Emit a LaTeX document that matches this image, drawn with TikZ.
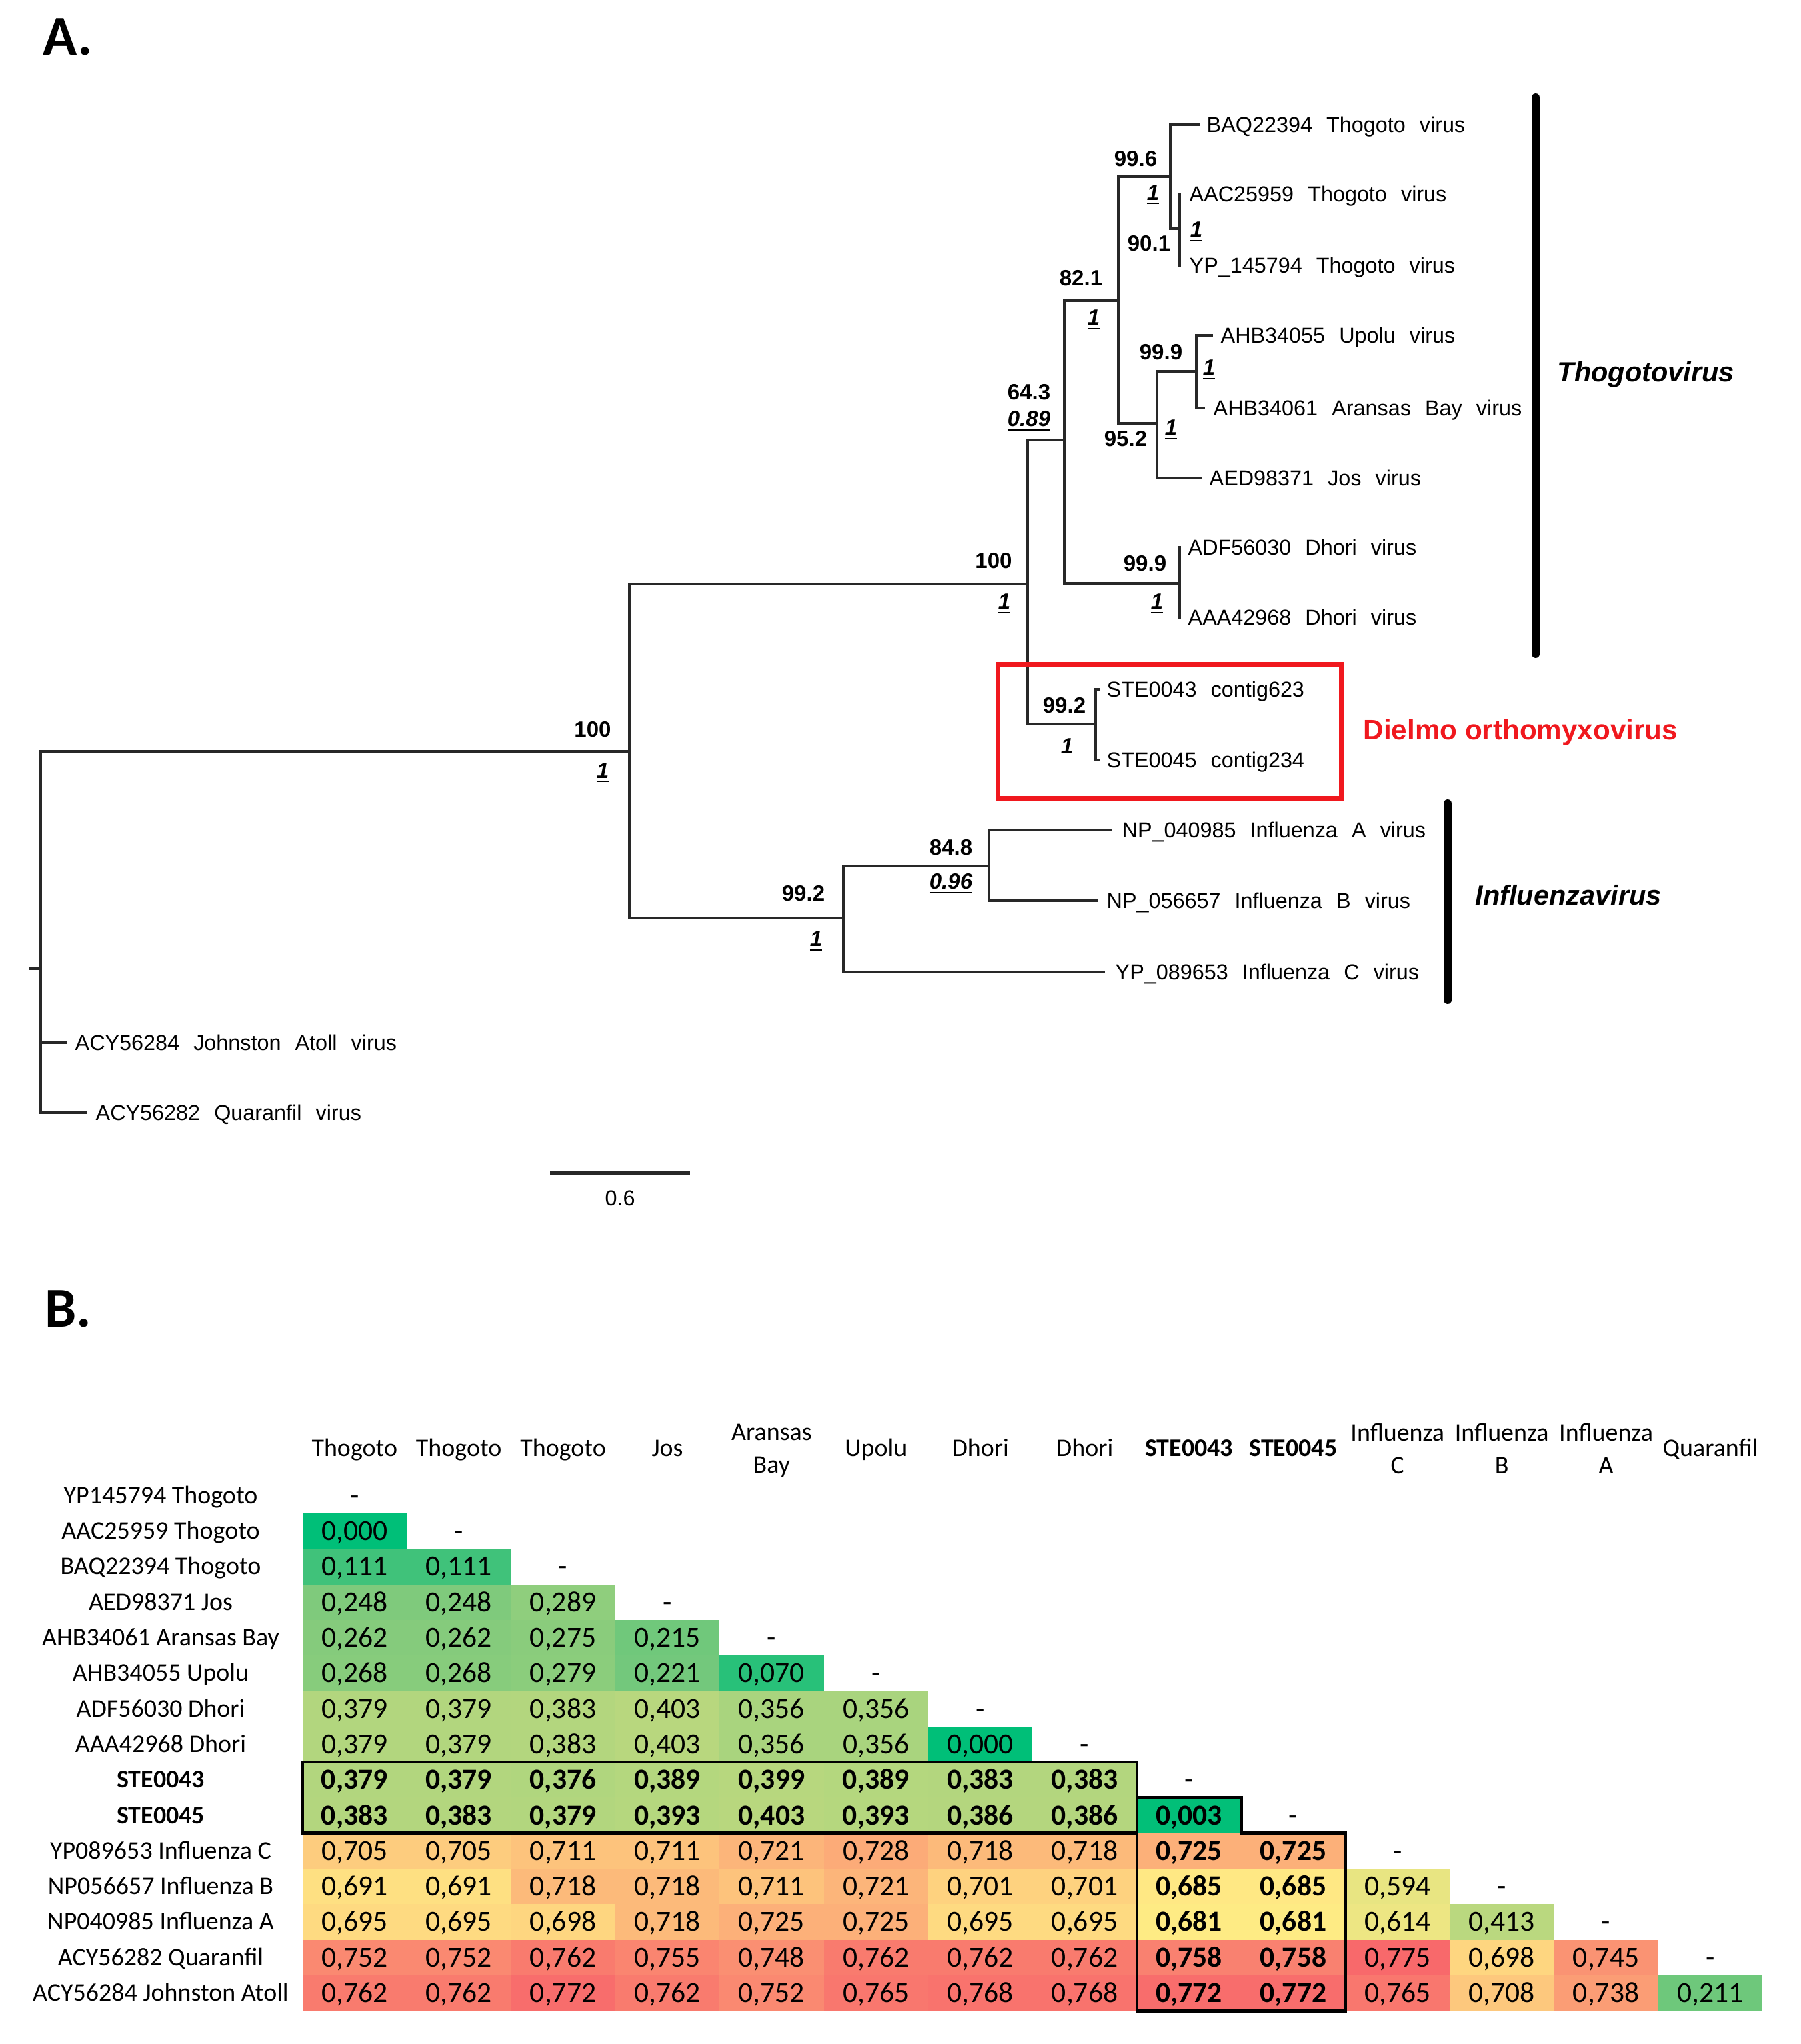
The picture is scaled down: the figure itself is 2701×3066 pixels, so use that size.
\documentclass[tikz,border=0pt]{standalone}
\usepackage{fontspec}
\setmainfont{Liberation Sans}
\newfontfamily\treefont[WordSpace=2.35]{Liberation Sans}
\newfontfamily\calfont{Carlito}
\definecolor{dred}{RGB}{240,24,30}
\definecolor{brc}{RGB}{40,40,40}
% heat-map colour scale
\def\hmseg#1#2#3#4#5#6#7#8{%
  \pgfmathsetmacro\hmt{(\hmv-#1)/(#2-#1)}%
  \pgfmathsetmacro\hmr{(#3+(#6-#3)*\hmt)/255}%
  \pgfmathsetmacro\hmg{(#4+(#7-#4)*\hmt)/255}%
  \pgfmathsetmacro\hmb{(#5+(#8-#5)*\hmt)/255}%
  \definecolor{hmc}{rgb}{\hmr,\hmg,\hmb}}
\def\hmset#1{%
  \edef\hmv{0.#1}%
  \ifdim\hmv pt<0.111pt \hmseg{0}{0.111}{0}{191}{120}{64}{194}{122}%
  \else\ifdim\hmv pt<0.25pt \hmseg{0.111}{0.25}{64}{194}{122}{128}{202}{124}%
  \else\ifdim\hmv pt<0.38pt \hmseg{0.25}{0.38}{128}{202}{124}{178}{214}{126}%
  \else\ifdim\hmv pt<0.683pt \hmseg{0.38}{0.683}{178}{214}{126}{255}{235}{132}%
  \else \hmseg{0.683}{0.775}{255}{235}{132}{248}{105}{107}%
  \fi\fi\fi\fi}
\begin{document}
\begin{tikzpicture}[x=0.01cm,y=-0.01cm,
  br/.style={draw=brc,line width=0.9pt,line cap=rect},
  tiplab/.style={anchor=base west,inner sep=0pt,yshift=-3.3pt,font=\treefont\fontsize{9.2}{11}\selectfont},
  bs/.style={inner sep=0pt,font=\treefont\bfseries\fontsize{9.4}{11}\selectfont},
  pp/.style={inner sep=0pt,font=\treefont\bfseries\itshape\fontsize{9.4}{11}\selectfont},
  clade/.style={line width=3.4pt,line cap=round},
  hlab/.style={inner sep=0pt,align=center,font=\calfont\fontsize{10.8}{13.9}\selectfont},
  hlabs/.style={anchor=base,inner sep=0pt,font=\calfont\fontsize{10.8}{13}\selectfont},
  rlab/.style={anchor=base,inner sep=0pt,font=\calfont\fontsize{10.8}{13}\selectfont},
  num/.style={anchor=base,inner sep=0pt,font=\calfont\fontsize{12.4}{14}\selectfont},
  numb/.style={anchor=base,inner sep=0pt,font=\calfont\bfseries\fontsize{12.4}{14}\selectfont},
  panel/.style={inner sep=0pt,font=\calfont\bfseries\fontsize{24}{28}\selectfont}]
\useasboundingbox[fill=white] (0,0) rectangle (2701,3066);

% ---------------- panel labels
\node[panel] (pA) at (102,55) {A.};
\node[panel] (pB) at (102,1963) {B.};

% ---------------- tree
\coordinate (rtick) at (46,1453);
\coordinate (root) at (61,1453);
\coordinate (n100a) at (944,1127);
\coordinate (n100b) at (1541,876);
\coordinate (n643) at (1596,660);
\coordinate (n821) at (1677,451);
\coordinate (n996) at (1755,265);
\coordinate (n901) at (1769,343);
\coordinate (n952) at (1735,635);
\coordinate (n999) at (1794,557);
\coordinate (ndho) at (1769,875);
\coordinate (ndie) at (1643,1086);
\coordinate (n992) at (1265,1377);
\coordinate (n848) at (1483,1299);
\coordinate (tBAQ) at (1797,187);
\coordinate (tAAC) at (1769,291);
\coordinate (tYP1) at (1769,398);
\coordinate (tUPO) at (1817,503);
\coordinate (tARA) at (1805,612);
\coordinate (tJOS) at (1801,717);
\coordinate (tADF) at (1769,821);
\coordinate (tAAA) at (1769,926);
\coordinate (tS43) at (1648,1034);
\coordinate (tS45) at (1648,1140);
\coordinate (tIFA) at (1665,1245);
\coordinate (tIFB) at (1645,1351);
\coordinate (tIFC) at (1655,1458);
\coordinate (tJOH) at (98,1564);
\coordinate (tQUA) at (129,1669);

\draw[br] (rtick) -- (root);
\draw[br] (root) |- (n100a);
\draw[br] (root) |- (tJOH);
\draw[br] (root) |- (tQUA);
\draw[br] (n100a) |- (n100b);
\draw[br] (n100a) |- (n992);
\draw[br] (n100b) |- (n643);
\draw[br] (n100b) |- (ndie);
\draw[br] (n643) |- (n821);
\draw[br] (n643) |- (ndho);
\draw[br] (n821) |- (n996);
\draw[br] (n821) |- (n952);
\draw[br] (n996) |- (tBAQ);
\draw[br] (n996) |- (n901);
\draw[br] (n901) |- (tAAC);
\draw[br] (n901) |- (tYP1);
\draw[br] (n952) |- (n999);
\draw[br] (n952) |- (tJOS);
\draw[br] (n999) |- (tUPO);
\draw[br] (n999) |- (tARA);
\draw[br] (ndho) |- (tADF);
\draw[br] (ndho) |- (tAAA);
\draw[br] (ndie) |- (tS43);
\draw[br] (ndie) |- (tS45);
\draw[br] (n992) |- (n848);
\draw[br] (n992) |- (tIFC);
\draw[br] (n848) |- (tIFA);
\draw[br] (n848) |- (tIFB);

\node[tiplab] (lBAQ) at (1809,187) {BAQ22394 Thogoto virus};
\node[tiplab] (lAAC) at (1783,291) {AAC25959 Thogoto virus};
\node[tiplab] (lYP1) at (1783,398) {YP\_145794 Thogoto virus};
\node[tiplab] (lUPO) at (1830,503) {AHB34055 Upolu virus};
\node[tiplab] (lARA) at (1819,612) {AHB34061 Aransas Bay virus};
\node[tiplab] (lJOS) at (1813,717) {AED98371 Jos virus};
\node[tiplab] (lADF) at (1781,821) {ADF56030 Dhori virus};
\node[tiplab] (lAAA) at (1781,926) {AAA42968 Dhori virus};
\node[tiplab] (lS43) at (1659,1034) {STE0043 contig623};
\node[tiplab] (lS45) at (1659,1140) {STE0045 contig234};
\node[tiplab] (lIFA) at (1682,1245) {NP\_040985 Influenza A virus};
\node[tiplab] (lIFB) at (1659,1351) {NP\_056657 Influenza B virus};
\node[tiplab] (lIFC) at (1672,1458) {YP\_089653 Influenza C virus};
\node[tiplab] (lJOH) at (112,1564) {ACY56284 Johnston Atoll virus};
\node[tiplab] (lQUA) at (143,1669) {ACY56282 Quaranfil virus};

% support values
\node[bs] (s1) at (889,1094) {100};   \node[pp] (q1) at (904,1160) {\underline{1}};
\node[bs] (s2) at (1490,841) {100};   \node[pp] (q2) at (1506,906) {\underline{1}};
\node[bs] (s3) at (1543,588) {64.3};  \node[pp] (q3) at (1543,632) {\underline{0.89}};
\node[bs] (s4) at (1621,417) {82.1};  \node[pp] (q4) at (1640,480) {\underline{1}};
\node[bs] (s5) at (1703,238) {99.6};  \node[pp] (q5) at (1729,293) {\underline{1}};
\node[bs] (s6) at (1723,365) {90.1};  \node[pp] (q6) at (1794,348) {\underline{1}};
\node[bs] (s7) at (1741,528) {99.9};  \node[pp] (q7) at (1813,555) {\underline{1}};
\node[bs] (s8) at (1688,658) {95.2};  \node[pp] (q8) at (1756,645) {\underline{1}};
\node[bs] (s9) at (1717,845) {99.9};  \node[pp] (q9) at (1735,906) {\underline{1}};
\node[bs] (s10) at (1596,1058) {99.2}; \node[pp] (q10) at (1600,1123) {\underline{1}};
\node[bs] (s11) at (1205,1340) {99.2}; \node[pp] (q11) at (1224,1412) {\underline{1}};
\node[bs] (s12) at (1426,1271) {84.8}; \node[pp] (q12) at (1426,1326) {\underline{0.96}};

% clade bars and labels
\coordinate (thA) at (2303,146); \coordinate (thB) at (2303,981);
\draw[clade] (thA) -- (thB);
\node[anchor=base west,inner sep=0pt,font=\bfseries\itshape\fontsize{11.8}{14}\selectfont] (thlab) at (2335,572) {Thogotovirus};
\coordinate (inA) at (2171,1205); \coordinate (inB) at (2171,1500);
\draw[clade] (inA) -- (inB);
\node[anchor=base west,inner sep=0pt,font=\bfseries\itshape\fontsize{11.8}{14}\selectfont] (inlab) at (2212,1357) {Influenzavirus};
\draw[dred,line width=2pt] (1496,997) rectangle (2011,1197);
\node[anchor=base west,inner sep=0pt,text=dred,font=\bfseries\fontsize{12}{14}\selectfont] (dielmo) at (2044,1109) {Dielmo orthomyxovirus};

% scale bar
\coordinate (sbA) at (825,1759); \coordinate (sbB) at (1035,1759);
\draw[line width=1.5pt,draw=brc] (sbA) -- (sbB);
\node[inner sep=0pt,font=\treefont\fontsize{9.2}{11}\selectfont] (sbl) at (930,1797) {0.6};

% ---------------- heat map
% column headers
\foreach \ci/\t/\f in {1/Thogoto/\mdseries,2/Thogoto/\mdseries,3/Thogoto/\mdseries,4/Jos/\mdseries,6/Upolu/\mdseries,7/Dhori/\mdseries,8/Dhori/\mdseries,9/STE0043/\bfseries,10/STE0045/\bfseries,14/Quaranfil/\mdseries}{
  \node[hlabs] (h\ci) at ({453.6+156.4*(\ci-0.5)},2184) {\f\t};
}
\node[hlab] (h5) at ({453.6+156.4*4.5},2176) {Aransas\\Bay};
\node[hlab] (h11) at ({453.6+156.4*10.5},2173) {Influenza\\C};
\node[hlab] (h12) at ({453.6+156.4*11.5},2173) {Influenza\\B};
\node[hlab] (h13) at ({453.6+156.4*12.5},2173) {Influenza\\A};

% row labels
\foreach \ri/\t/\f in {1/YP145794 Thogoto/\mdseries,2/AAC25959 Thogoto/\mdseries,3/BAQ22394 Thogoto/\mdseries,4/AED98371 Jos/\mdseries,5/AHB34061 Aransas Bay/\mdseries,6/AHB34055 Upolu/\mdseries,7/ADF56030 Dhori/\mdseries,8/AAA42968 Dhori/\mdseries,9/STE0043/\bfseries,10/STE0045/\bfseries,11/YP089653 Influenza C/\mdseries,12/NP056657 Influenza B/\mdseries,13/NP040985 Influenza A/\mdseries,14/ACY56282 Quaranfil/\mdseries,15/ACY56284 Johnston Atoll/\mdseries}{
  \node[rlab] (r\ri) at (241,{2216.7+53.3*(\ri-0.5)+12}) {\f\t};
}

% cells
\foreach \ri/\vals in {2/{000},3/{111,111},4/{248,248,289},5/{262,262,275,215},6/{268,268,279,221,070},7/{379,379,383,403,356,356},8/{379,379,383,403,356,356,000},9/{379,379,376,389,399,389,383,383},10/{383,383,379,393,403,393,386,386,003},11/{705,705,711,711,721,728,718,718,725,725},12/{691,691,718,718,711,721,701,701,685,685,594},13/{695,695,698,718,725,725,695,695,681,681,614,413},14/{752,752,762,755,748,762,762,762,758,758,775,698,745},15/{762,762,772,762,752,765,768,768,772,772,765,708,738,211}}{
  \foreach \v [count=\ci] in \vals {
    \hmset{\v}
    \pgfmathsetmacro\xa{453.6+156.4*(\ci-1)}
    \pgfmathsetmacro\ya{2216.7+53.3*(\ri-1)}
    \pgfmathtruncatemacro\isb{(\ri==9)||(\ri==10)||(\ci==9)||(\ci==10)}
    \fill[hmc] (\xa,\ya) rectangle ++(156.4,53.3);
    \ifnum\isb=1
      \node[numb] (c\ri-\ci) at (\xa+78.2,\ya+40.65) {0,\v};
    \else
      \node[num] (c\ri-\ci) at (\xa+78.2,\ya+40.65) {0,\v};
    \fi
  }
}
% diagonal dashes
\foreach \i in {1,...,14}{
  \node[num] (d\i) at ({453.6+156.4*(\i-0.5)},{2216.7+53.3*(\i-0.5)+14}) {-};
}
% outlines
\draw[line width=1.3pt] (453.6,2643.1) rectangle (1704.8,2749.7);
\draw[line width=1.3pt] (1704.8,2696.4) -- (1861.2,2696.4) -- (1861.2,2749.7) -- (2017.6,2749.7) -- (2017.6,3016.2) -- (1704.8,3016.2) -- cycle;
\end{tikzpicture}
\end{document}
